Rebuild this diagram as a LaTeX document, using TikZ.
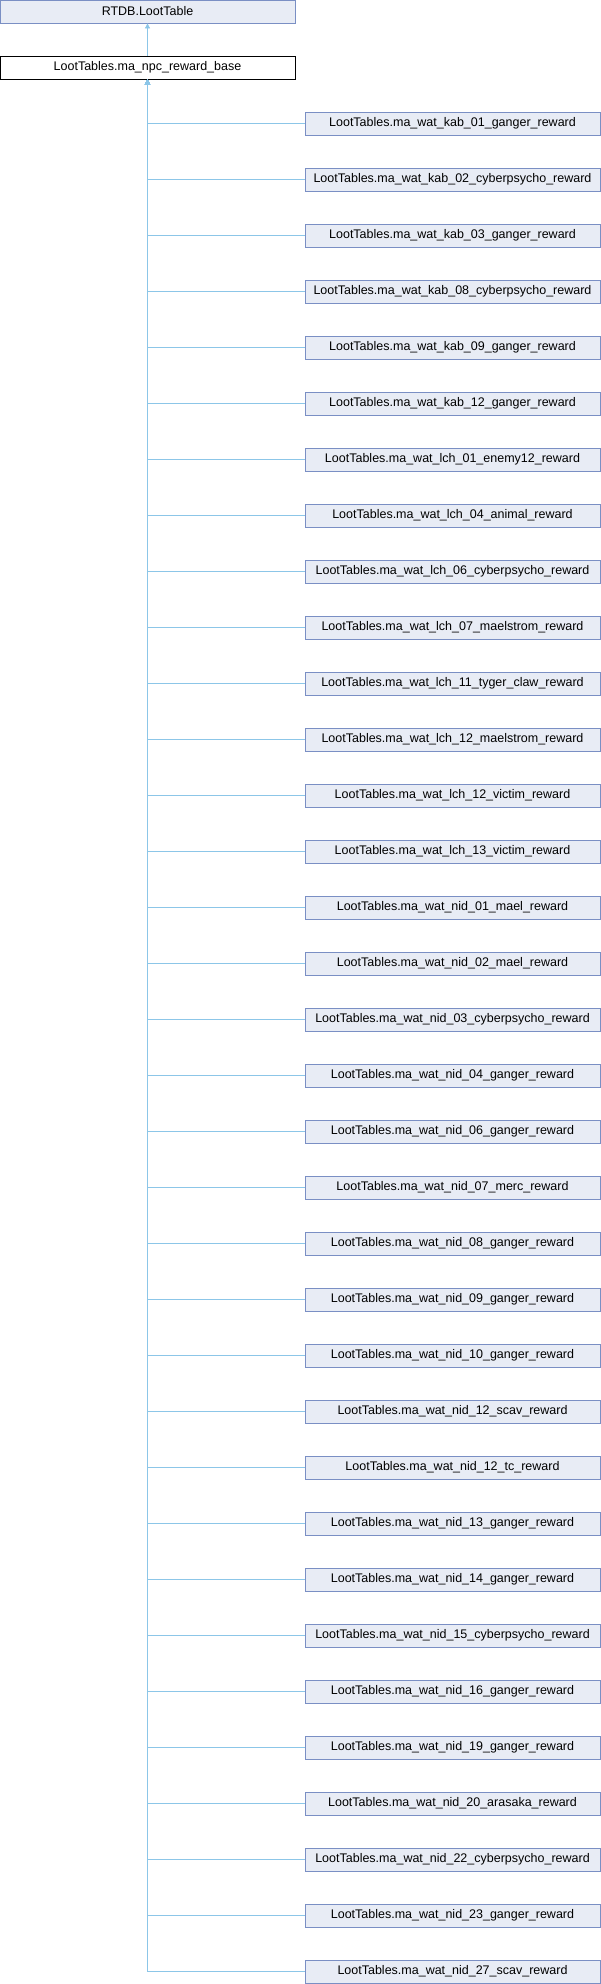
\documentclass[tikz,border=0pt]{standalone}
\usepackage{fontspec}
\setmainfont{Liberation Sans}
\usetikzlibrary{arrows.meta}
\definecolor{edgeblue}{RGB}{140,198,232}
\definecolor{boxline}{RGB}{122,143,196}
\definecolor{boxfill}{RGB}{232,236,245}
\tikzset{
  classbox/.style={draw=boxline,fill=boxfill,line width=0.8pt,minimum width=295pt,
    minimum height=23pt,inner sep=0pt,font=\fontsize{12.5}{14}\selectfont},
  basebox/.style={classbox,draw=black,fill=white},
  inherit/.style={draw=edgeblue,line width=0.8pt,{Triangle[width=5pt,length=5pt]}-}
}
\begin{document}
\begin{tikzpicture}[x=1pt,y=-1pt]
\useasboundingbox (0,0) rectangle (600,1984);
% parent chain
\node[classbox] (lt) at (147.5,11.5) {RTDB.LootTable};
\node[basebox] (base) at (147.5,67.5) {LootTables.ma\_npc\_reward\_base};
\draw[inherit] (lt.south) -- (base.north);
% derived tables, one row every 56px
\foreach \lab [count=\k from 0] in {
  ma\_wat\_kab\_01\_ganger\_reward, ma\_wat\_kab\_02\_cyberpsycho\_reward,
  ma\_wat\_kab\_03\_ganger\_reward, ma\_wat\_kab\_08\_cyberpsycho\_reward,
  ma\_wat\_kab\_09\_ganger\_reward, ma\_wat\_kab\_12\_ganger\_reward,
  ma\_wat\_lch\_01\_enemy12\_reward, ma\_wat\_lch\_04\_animal\_reward,
  ma\_wat\_lch\_06\_cyberpsycho\_reward, ma\_wat\_lch\_07\_maelstrom\_reward,
  ma\_wat\_lch\_11\_tyger\_claw\_reward, ma\_wat\_lch\_12\_maelstrom\_reward,
  ma\_wat\_lch\_12\_victim\_reward, ma\_wat\_lch\_13\_victim\_reward,
  ma\_wat\_nid\_01\_mael\_reward, ma\_wat\_nid\_02\_mael\_reward,
  ma\_wat\_nid\_03\_cyberpsycho\_reward, ma\_wat\_nid\_04\_ganger\_reward,
  ma\_wat\_nid\_06\_ganger\_reward, ma\_wat\_nid\_07\_merc\_reward,
  ma\_wat\_nid\_08\_ganger\_reward, ma\_wat\_nid\_09\_ganger\_reward,
  ma\_wat\_nid\_10\_ganger\_reward, ma\_wat\_nid\_12\_scav\_reward,
  ma\_wat\_nid\_12\_tc\_reward, ma\_wat\_nid\_13\_ganger\_reward,
  ma\_wat\_nid\_14\_ganger\_reward, ma\_wat\_nid\_15\_cyberpsycho\_reward,
  ma\_wat\_nid\_16\_ganger\_reward, ma\_wat\_nid\_19\_ganger\_reward,
  ma\_wat\_nid\_20\_arasaka\_reward, ma\_wat\_nid\_22\_cyberpsycho\_reward,
  ma\_wat\_nid\_23\_ganger\_reward, ma\_wat\_nid\_27\_scav\_reward}
  {\node[classbox] (d\k) at (452.5,{123.5+56*\k}) {LootTables.\lab};
   \draw[inherit] (base.south) |- (d\k.west);}
\end{tikzpicture}
\end{document}
